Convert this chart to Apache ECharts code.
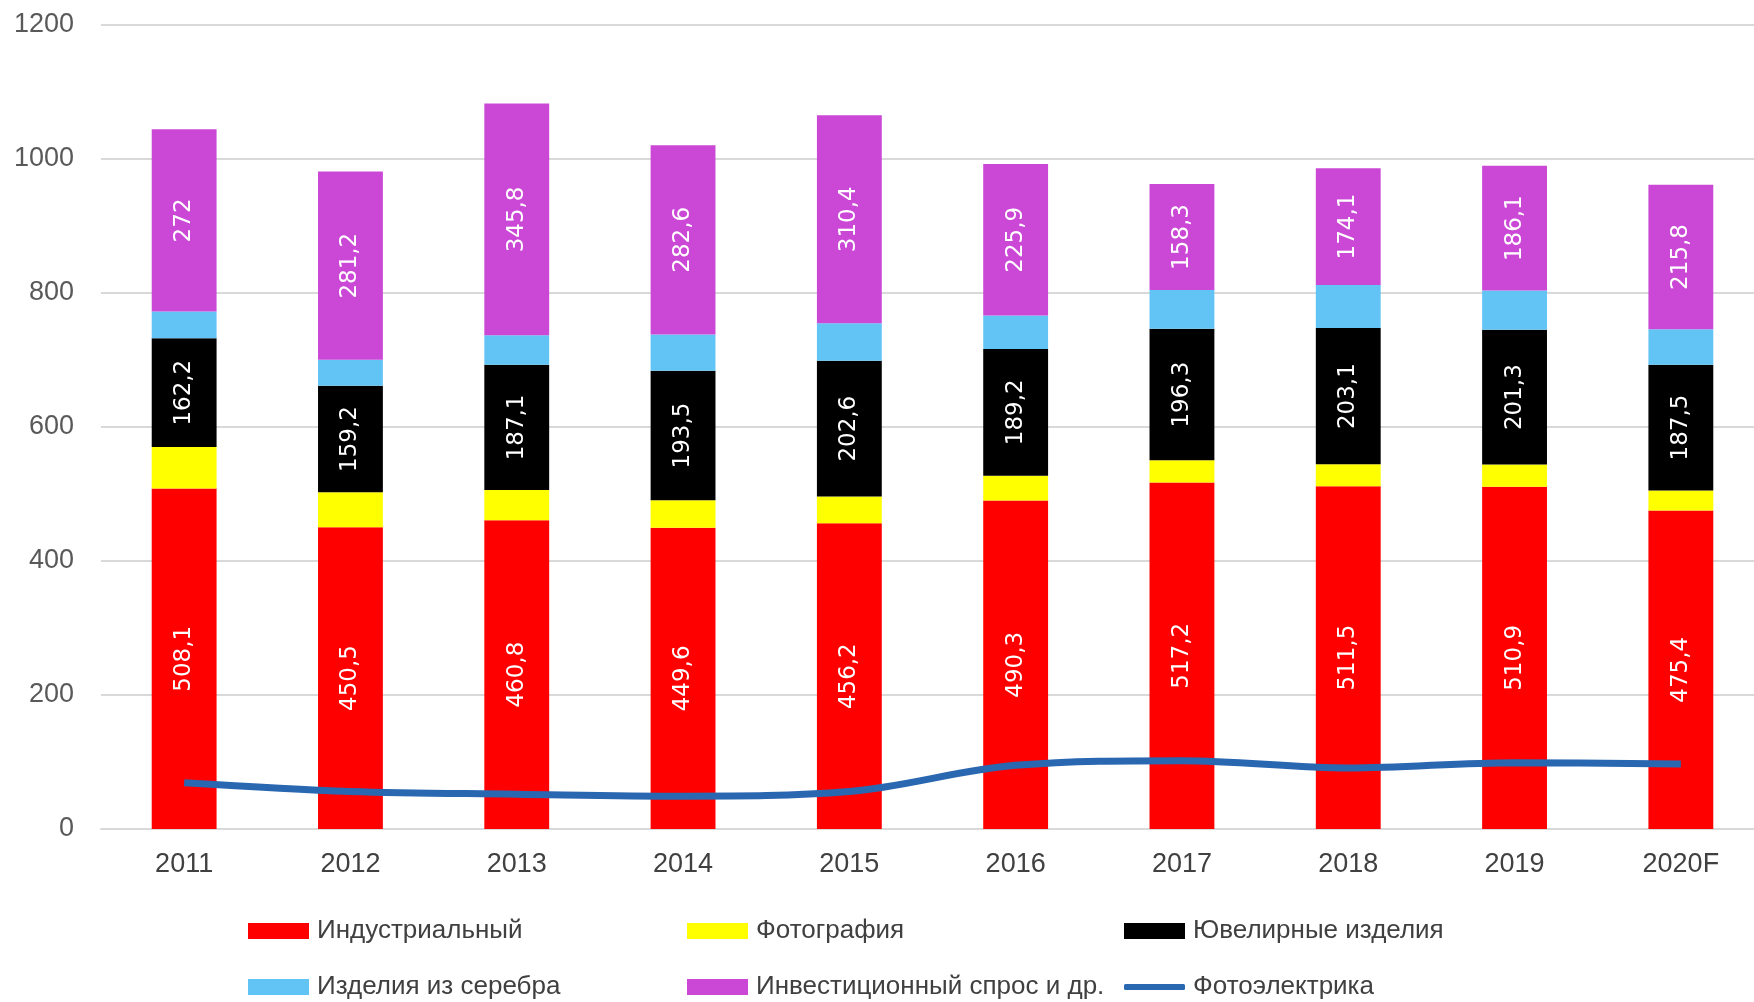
<!DOCTYPE html>
<html>
<head>
<meta charset="utf-8">
<script src="https://cdn.jsdelivr.net/npm/echarts@6/dist/echarts.min.js"></script>
<style>
html,body{margin:0;padding:0;background:#fff;overflow:hidden;}
#chart{width:1772px;height:1002px;}
</style>
</head>
<body>
<div id="chart"></div>
<script>
const categories = ['2011','2012','2013','2014','2015','2016','2017','2018','2019','2020F'];
const industrial = [508.1,450.5,460.8,449.6,456.2,490.3,517.2,511.5,510.9,475.4];
const photography = [62,52,45,41,40,37,33,33,33,30];
const jewelry = [162.2,159.2,187.1,193.5,202.6,189.2,196.3,203.1,201.3,187.5];
const silverware = [40,38.5,44,54,56,50,58,64.5,58.5,53];
const investment = [272,281.2,345.8,282.6,310.4,225.9,158.3,174.1,186.1,215.8];
const photovoltaic = [69,56,52,49,56,95,102,91,99,97];
const yTicks = [0,200,400,600,800,1000,1200];

const names = ['Индустриальный','Фотография','Ювелирные изделия','Изделия из серебра','Инвестиционный спрос и др.','Фотоэлектрика'];
const colors = ['#FF0000','#FFFF00','#000000','#62C4F4','#CB48D6','#2A67B1'];

const fmt = v => String(v).replace('.', ',');
const FONT = 'Liberation Sans';

function barSeries(name, data, color, labeled) {
  return {
    name: name, type: 'bar', stack: 'total', data: data, barWidth: '39%',
    itemStyle: {color: color},
    label: labeled ? {
      show: true, position: 'inside', rotate: 90,
      color: '#ffffff', fontFamily: 'DejaVu Sans', fontSize: 23,
      formatter: p => fmt(p.value)
    } : {show: false},
    emphasis: {disabled: true}
  };
}

const legendPos = [
  {left: 248, top: 918}, {left: 687, top: 918}, {left: 1124, top: 918},
  {left: 248, top: 974}, {left: 687, top: 974}, {left: 1124, top: 974}
];

function legendItem(p, i) {
  const lg = {
    left: p.left, top: p.top, data: [names[i]],
    itemWidth: 61, itemHeight: 16, padding: 0, icon: 'rect',
    selectedMode: false,
    textStyle: {fontFamily: FONT, fontSize: 26, color: '#404040', padding: [0,0,0,3]}
  };
  if (i === 5) {
    lg.itemHeight = 6;
    lg.icon = 'roundRect';
  }
  return lg;
}

const chart = echarts.init(document.getElementById('chart'));
chart.setOption({
  animation: false,
  backgroundColor: '#ffffff',
  grid: {left: 101, right: 8, top: 25, bottom: 173},
  legend: legendPos.map(legendItem),
  xAxis: {
    type: 'category', data: categories,
    axisLine: {lineStyle: {color: '#D9D9D9', width: 2}},
    axisTick: {show: false},
    axisLabel: {fontFamily: FONT, fontSize: 27, color: '#404040', margin: 22}
  },
  yAxis: {
    type: 'value', min: yTicks[0], max: yTicks[yTicks.length-1], interval: 200,
    axisLine: {show: false}, axisTick: {show: false},
    splitLine: {lineStyle: {color: '#D9D9D9', width: 2}},
    axisLabel: {fontFamily: FONT, fontSize: 27, color: '#595959', margin: 27,
      formatter: v => String(v)}
  },
  series: [
    barSeries(names[0], industrial, colors[0], true),
    barSeries(names[1], photography, colors[1], false),
    barSeries(names[2], jewelry, colors[2], true),
    barSeries(names[3], silverware, colors[3], false),
    barSeries(names[4], investment, colors[4], true),
    {
      name: names[5], type: 'line', data: photovoltaic, smooth: 0.35,
      symbol: 'none', z: 5,
      lineStyle: {color: colors[5], width: 7},
      itemStyle: {color: colors[5]},
      emphasis: {disabled: true}
    }
  ]
});
</script>
</body>
</html>
